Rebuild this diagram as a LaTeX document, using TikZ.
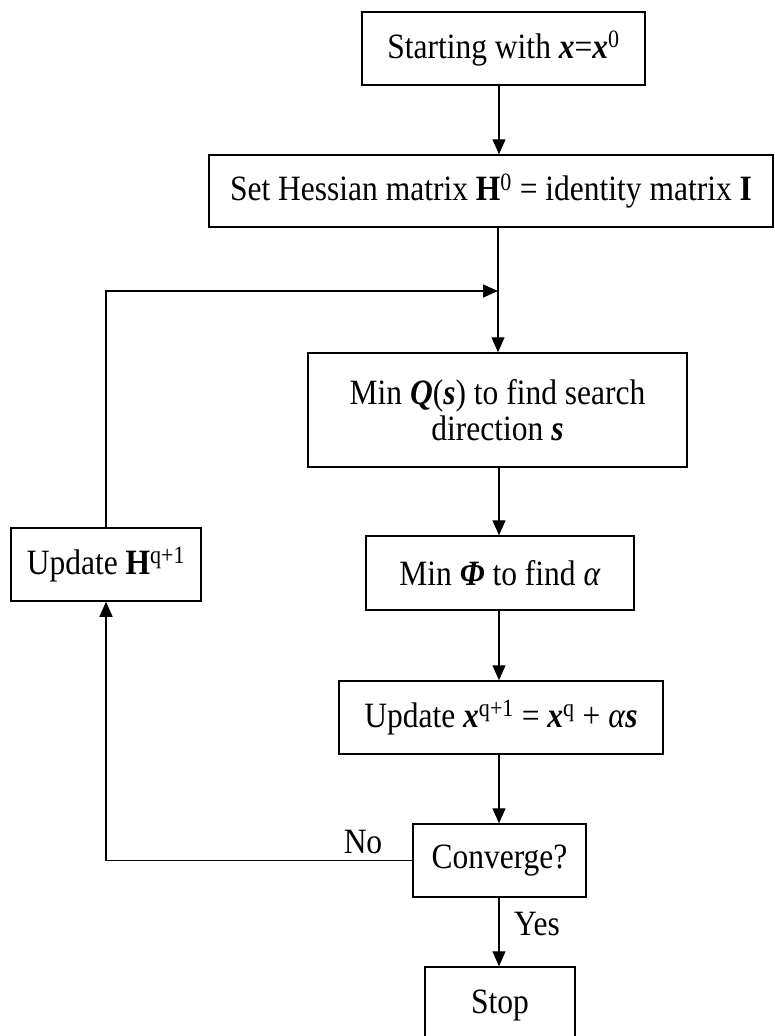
\documentclass[tikz,border=0pt]{standalone}
\usepackage{fontspec}
\usepackage{graphicx}
\setmainfont{Liberation Serif}
\usetikzlibrary{arrows.meta}
\newcommand\bix{\textbf{\textit{x}}}
\newcommand\bis{\textbf{\textit{s}}}
\newcommand\tall[1]{\scalebox{1}[1.13]{#1}}
\begin{document}
\begin{tikzpicture}[x=1pt,y=-1pt,
  box/.style={draw, line width=1.5pt, inner sep=0pt, align=center, font=\fontsize{31.5}{36}\selectfont},
  lbl/.style={inner sep=0pt, anchor=base, font=\fontsize{31.5}{36}\selectfont},
  arr/.style={line width=1.3pt, -{Triangle[length=15pt,width=13pt]}},
  ln/.style={line width=1.3pt}]
\useasboundingbox (0,0) rectangle (774,1036);
\node[box, minimum width=283pt, minimum height=73pt] (b1) at (503.5,48.5) {\tall{Starting with \bix=\bix\textsuperscript{0}}};
\node[box, minimum width=564pt, minimum height=72pt] (b2) at (491,191) {\tall{Set Hessian matrix \textbf{H}\textsuperscript{0} = identity matrix \textbf{I}}};
\node[box, minimum width=379pt, minimum height=114pt] (b3) at (497.5,410) {\tall{Min \textbf{\textit{Q}}(\bis) to find search}\\\tall{direction \bis}};
\node[box, minimum width=268pt, minimum height=74pt] (b4) at (500,573) {\tall{Min \textbf{\textit{Φ}} to find \textit{α}}};
\node[box, minimum width=190pt, minimum height=73pt] (bH) at (106,564.5) {\tall{Update \textbf{H}\textsuperscript{q+1}}};
\node[box, minimum width=324pt, minimum height=73pt] (b5) at (501,717.5) {\tall{Update \bix\textsuperscript{q+1} = \bix\textsuperscript{q} + \textit{α}\bis}};
\node[box, minimum width=173pt, minimum height=73pt] (b6) at (499.5,860.5) {\tall{Converge?}};
\node[box, minimum width=150pt, minimum height=76pt] (b7) at (500,1005) {\tall{Stop}};
\node[lbl] (no) at (363,853) {\tall{No}};
\node[lbl] (yes) at (537,935) {\tall{Yes}};
\coordinate (sp) at (499,0);
\coordinate (j) at (498,291);
\draw[arr] (b1.south -| sp) -- (b2.north -| sp);
\draw[ln] (b2.south -| j) -- (j);
\draw[arr] (j) -- (b3.north -| j);
\draw[arr] (bH.north) |- (j);
\draw[arr] (b3.south -| sp) -- (b4.north -| sp);
\draw[arr] (b4.south -| sp) -- (b5.north -| sp);
\draw[arr] (b5.south -| sp) -- (b6.north -| sp);
\draw[arr] (b6.south -| sp) -- (b7.north -| sp);
\draw[arr] (b6.west) -| (bH.south);
\end{tikzpicture}
\end{document}
